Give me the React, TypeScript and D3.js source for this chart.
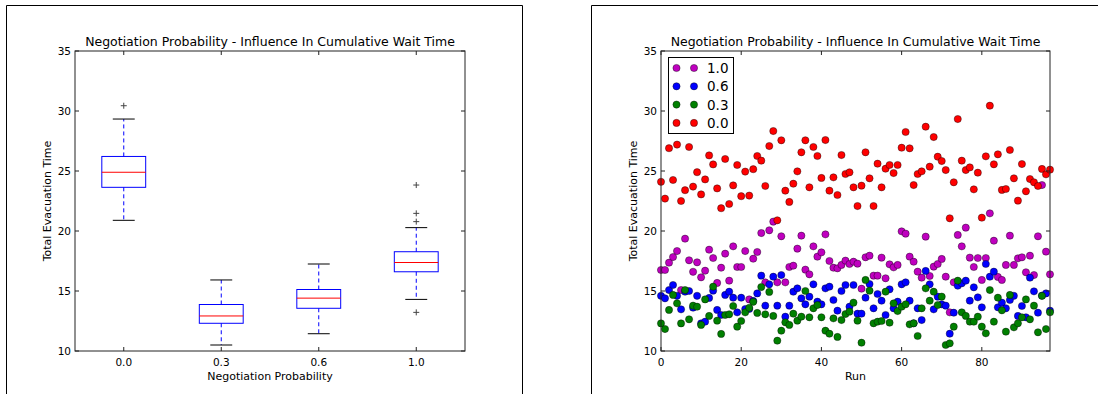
import * as d3 from 'd3';
import React from 'react';

// runs 0..97, one value per run for each negotiation probability
const p10 = [16.75, 16.75, 17.36, 17.83, 18.33, 15.08, 19.36, 17.56, 16.6, 17.39, 16.14, 16.69, 18.44, 17.75, 15.67, 16.94, 18.11, 15.86, 18.72, 17.0, 17.0, 18.33, 14.3, 17.69, 18.25, 19.83, 15.72, 20.06, 20.78, 15.72, 19.56, 15.72, 17.0, 17.11, 18.53, 19.61, 16.78, 16.39, 18.72, 17.86, 18.22, 19.72, 17.5, 16.94, 16.89, 17.17, 17.53, 17.25, 17.44, 17.28, 15.19, 17.81, 17.94, 16.28, 16.28, 17.78, 16.06, 17.22, 16.97, 17.17, 19.97, 19.78, 17.86, 17.44, 16.61, 16.11, 19.53, 16.25, 17.03, 17.25, 17.67, 16.19, 13.22, 15.72, 19.67, 18.72, 20.28, 17.78, 17.0, 17.75, 15.92, 17.75, 21.47, 19.19, 16.17, 15.92, 17.17, 19.61, 17.17, 17.72, 17.81, 16.56, 17.94, 16.33, 19.56, 23.83, 18.28, 16.39];
const p06 = [14.6, 14.39, 15.08, 15.5, 14.6, 13.47, 14.94, 15.0, 13.61, 14.6, 12.3, 12.44, 14.42, 15.03, 13.42, 13.0, 14.67, 14.94, 14.44, 13.22, 14.44, 13.5, 13.5, 14.17, 14.8, 16.28, 13.78, 15.56, 16.19, 13.78, 16.33, 12.86, 13.78, 14.94, 15.22, 14.39, 13.89, 14.53, 15.56, 14.11, 13.89, 15.22, 15.36, 14.25, 13.36, 15.0, 15.5, 13.69, 15.5, 13.11, 13.11, 14.44, 15.58, 13.56, 14.75, 14.19, 13.0, 15.14, 13.56, 14.11, 15.56, 15.72, 14.19, 12.31, 13.56, 12.58, 16.67, 15.56, 13.47, 14.53, 13.89, 13.78, 11.44, 13.19, 15.44, 15.64, 15.86, 14.19, 15.31, 14.47, 13.64, 17.25, 16.19, 16.61, 13.64, 14.03, 13.56, 14.25, 14.6, 12.92, 13.75, 12.81, 16.11, 14.97, 13.19, 14.61, 14.8, 13.36];
const p03 = [12.3, 11.83, 13.42, 14.67, 13.97, 12.3, 15.08, 12.64, 13.78, 13.69, 12.17, 14.3, 12.92, 15.36, 12.53, 11.42, 13.0, 13.06, 13.75, 12.03, 12.5, 13.22, 13.6, 14.1, 13.17, 15.33, 13.06, 14.92, 12.92, 10.86, 11.69, 12.39, 12.17, 13.11, 12.53, 12.86, 15.0, 12.81, 13.56, 13.83, 12.81, 11.69, 11.44, 12.72, 11.17, 12.58, 13.08, 13.28, 14.03, 12.53, 10.69, 15.92, 15.03, 12.31, 12.44, 12.5, 14.94, 12.36, 13.97, 13.33, 13.69, 13.89, 12.22, 12.31, 11.25, 13.56, 15.22, 14.19, 14.94, 13.83, 14.53, 10.5, 10.64, 12.03, 15.86, 13.22, 12.92, 12.44, 12.44, 12.86, 12.03, 11.47, 15.08, 12.44, 14.44, 13.39, 11.61, 14.67, 11.97, 12.31, 12.81, 14.3, 12.64, 13.78, 11.56, 14.6, 11.83, 13.22];
const p00 = [24.1, 22.7, 26.9, 24.25, 27.2, 22.5, 23.4, 27.0, 23.7, 24.9, 23.05, 24.3, 26.3, 25.55, 23.55, 21.9, 26.0, 22.25, 23.8, 25.5, 22.9, 24.95, 22.95, 25.15, 26.25, 25.86, 23.75, 27.08, 28.33, 20.89, 27.56, 23.36, 22.42, 23.94, 24.97, 26.56, 27.56, 23.64, 27.0, 26.25, 24.42, 27.58, 23.36, 24.47, 23.0, 26.33, 24.75, 24.89, 23.64, 22.08, 23.78, 26.56, 24.39, 22.08, 25.61, 23.64, 25.19, 25.5, 24.83, 25.5, 26.94, 28.25, 26.89, 23.83, 24.75, 24.97, 28.69, 25.36, 27.83, 26.19, 25.83, 25.08, 21.06, 24.06, 29.33, 25.86, 25.08, 25.3, 23.47, 24.86, 21.11, 26.22, 30.44, 25.56, 26.39, 23.42, 23.5, 26.75, 24.39, 22.53, 25.58, 23.31, 24.33, 24.06, 23.75, 25.17, 24.72, 25.11];

const boxLabels = ['0.0', '0.3', '0.6', '1.0'];
const boxData = [p00, p03, p06, p10];
const legendLabels = ['1.0', '0.6', '0.3', '0.0'];
const scatterData = [p10, p06, p03, p00];
const scatterColors = ['#bf00bf', '#0000ff', '#008000', '#ff0000'];
const yTicks = [10, 15, 20, 25, 30, 35];
const runTicks = [0, 20, 40, 60, 80];

const title = 'Negotiation Probability - Influence In Cumulative Wait Time';
const font = 'DejaVu Sans, sans-serif';
const ink = '#222';

const top = 51;
const bottom = 351;

function boxStats(values: number[]) {
  const s = values.slice().sort(d3.ascending);
  const q1 = d3.quantile(s, 0.25)!;
  const med = d3.quantile(s, 0.5)!;
  const q3 = d3.quantile(s, 0.75)!;
  const iqr = q3 - q1;
  const inside = s.filter((v) => v >= q1 - 1.5 * iqr && v <= q3 + 1.5 * iqr);
  const lo = d3.min(inside)!;
  const hi = d3.max(inside)!;
  const fliers = s.filter((v) => v < lo || v > hi);
  return { q1, med, q3, lo, hi, fliers };
}

function Frame({ x0, x1, y, label, children }: any) {
  return (
    <g>
      {children}
      <rect x={x0} y={top} width={x1 - x0} height={bottom - top} fill="none" stroke={ink} strokeWidth={1} />
      <text x={(x0 + x1) / 2} y={top - 5} textAnchor="middle" fontSize={12.5} fill="#000">
        {title}
      </text>
      {yTicks.map((t) => (
        <g key={t}>
          <line x1={x0} x2={x0 + 4} y1={y(t)} y2={y(t)} stroke={ink} />
          <line x1={x1} x2={x1 - 4} y1={y(t)} y2={y(t)} stroke={ink} />
          <text x={x0 - 4} y={y(t) + 4} textAnchor="end" fontSize={10.5} fill="#000">
            {t}
          </text>
        </g>
      ))}
      <text
        transform={`translate(${x0 - 24},${(top + bottom) / 2}) rotate(-90)`}
        textAnchor="middle"
        fontSize={11}
        fill="#000"
      >
        Total Evacuation Time
      </text>
      <text x={(x0 + x1) / 2} y={380} textAnchor="middle" fontSize={11} fill="#000">
        {label}
      </text>
    </g>
  );
}

export default function App() {
  const y = d3.scaleLinear().domain([10, 35]).range([bottom, top]);

  // left: box plot
  const bx = d3.scaleLinear().domain([0.5, 4.5]).range([75, 465]);
  const bw = 0.45 * (bx(1) - bx(0));

  // right: scatter by run
  const sx = d3.scaleLinear().domain([0, 97]).range([661, 1050]);

  return (
    <svg
      width={1098}
      height={394}
      style={{ position: 'absolute', left: 0, top: 0, fontFamily: font }}
    >
      <rect width={1098} height={394} fill="#fff" />
      <path d="M6.5,394V5.5H522.5V394" fill="none" stroke="#000" />
      <path d="M591.5,394V5.5H1098" fill="none" stroke="#000" />

      <Frame x0={bx(0.5)} x1={bx(4.5)} y={y} label="Negotiation Probability">
        {boxData.map((vals, i) => {
          const st = boxStats(vals);
          const cx = bx(i + 1);
          return (
            <g key={i}>
              <line x1={cx} x2={cx} y1={y(st.q3)} y2={y(st.hi)} stroke="#0000ff" strokeDasharray="4,3" />
              <line x1={cx} x2={cx} y1={y(st.q1)} y2={y(st.lo)} stroke="#0000ff" strokeDasharray="4,3" />
              <line x1={cx - bw / 4} x2={cx + bw / 4} y1={y(st.hi)} y2={y(st.hi)} stroke="#000" />
              <line x1={cx - bw / 4} x2={cx + bw / 4} y1={y(st.lo)} y2={y(st.lo)} stroke="#000" />
              <rect
                x={cx - bw / 2}
                y={y(st.q3)}
                width={bw}
                height={y(st.q1) - y(st.q3)}
                fill="none"
                stroke="#0000ff"
              />
              <line x1={cx - bw / 2} x2={cx + bw / 2} y1={y(st.med)} y2={y(st.med)} stroke="#ff0000" />
              {st.fliers.map((f, k) => (
                <path key={k} d={`M${cx - 3},${y(f)}h6M${cx},${y(f) - 3}v6`} stroke="#444" />
              ))}
              <line x1={cx} x2={cx} y1={bottom} y2={bottom - 4} stroke={ink} />
              <line x1={cx} x2={cx} y1={top} y2={top + 4} stroke={ink} />
              <text x={cx} y={366} textAnchor="middle" fontSize={10.5}>
                {boxLabels[i]}
              </text>
            </g>
          );
        })}
      </Frame>

      <Frame x0={sx(0)} x1={sx(97)} y={y} label="Run">
        <g>
          {scatterData.map((vals, s) =>
            vals.map((v, i) => (
              <circle
                key={`${s}-${i}`}
                cx={sx(i)}
                cy={y(v)}
                r={3.6}
                fill={scatterColors[s]}
                stroke="#000"
                strokeWidth={0.4}
              />
            ))
          )}
        </g>
        {runTicks.map((t) => (
          <g key={t}>
            <line x1={sx(t)} x2={sx(t)} y1={bottom} y2={bottom - 4} stroke={ink} />
            <line x1={sx(t)} x2={sx(t)} y1={top} y2={top + 4} stroke={ink} />
            <text x={sx(t)} y={366} textAnchor="middle" fontSize={10.5}>
              {t}
            </text>
          </g>
        ))}
        <rect x={668.5} y={57.5} width={65} height={76} fill="#fff" stroke="#000" />
        {legendLabels.map((l, k) => (
          <g key={l}>
            <circle cx={676.5} cy={68 + k * 18.3} r={3.6} fill={scatterColors[k]} stroke="#000" strokeWidth={0.4} />
            <circle cx={694} cy={68 + k * 18.3} r={3.6} fill={scatterColors[k]} stroke="#000" strokeWidth={0.4} />
            <text x={707} y={68 + k * 18.3 + 5} fontSize={13.5}>
              {l}
            </text>
          </g>
        ))}
      </Frame>
    </svg>
  );
}
